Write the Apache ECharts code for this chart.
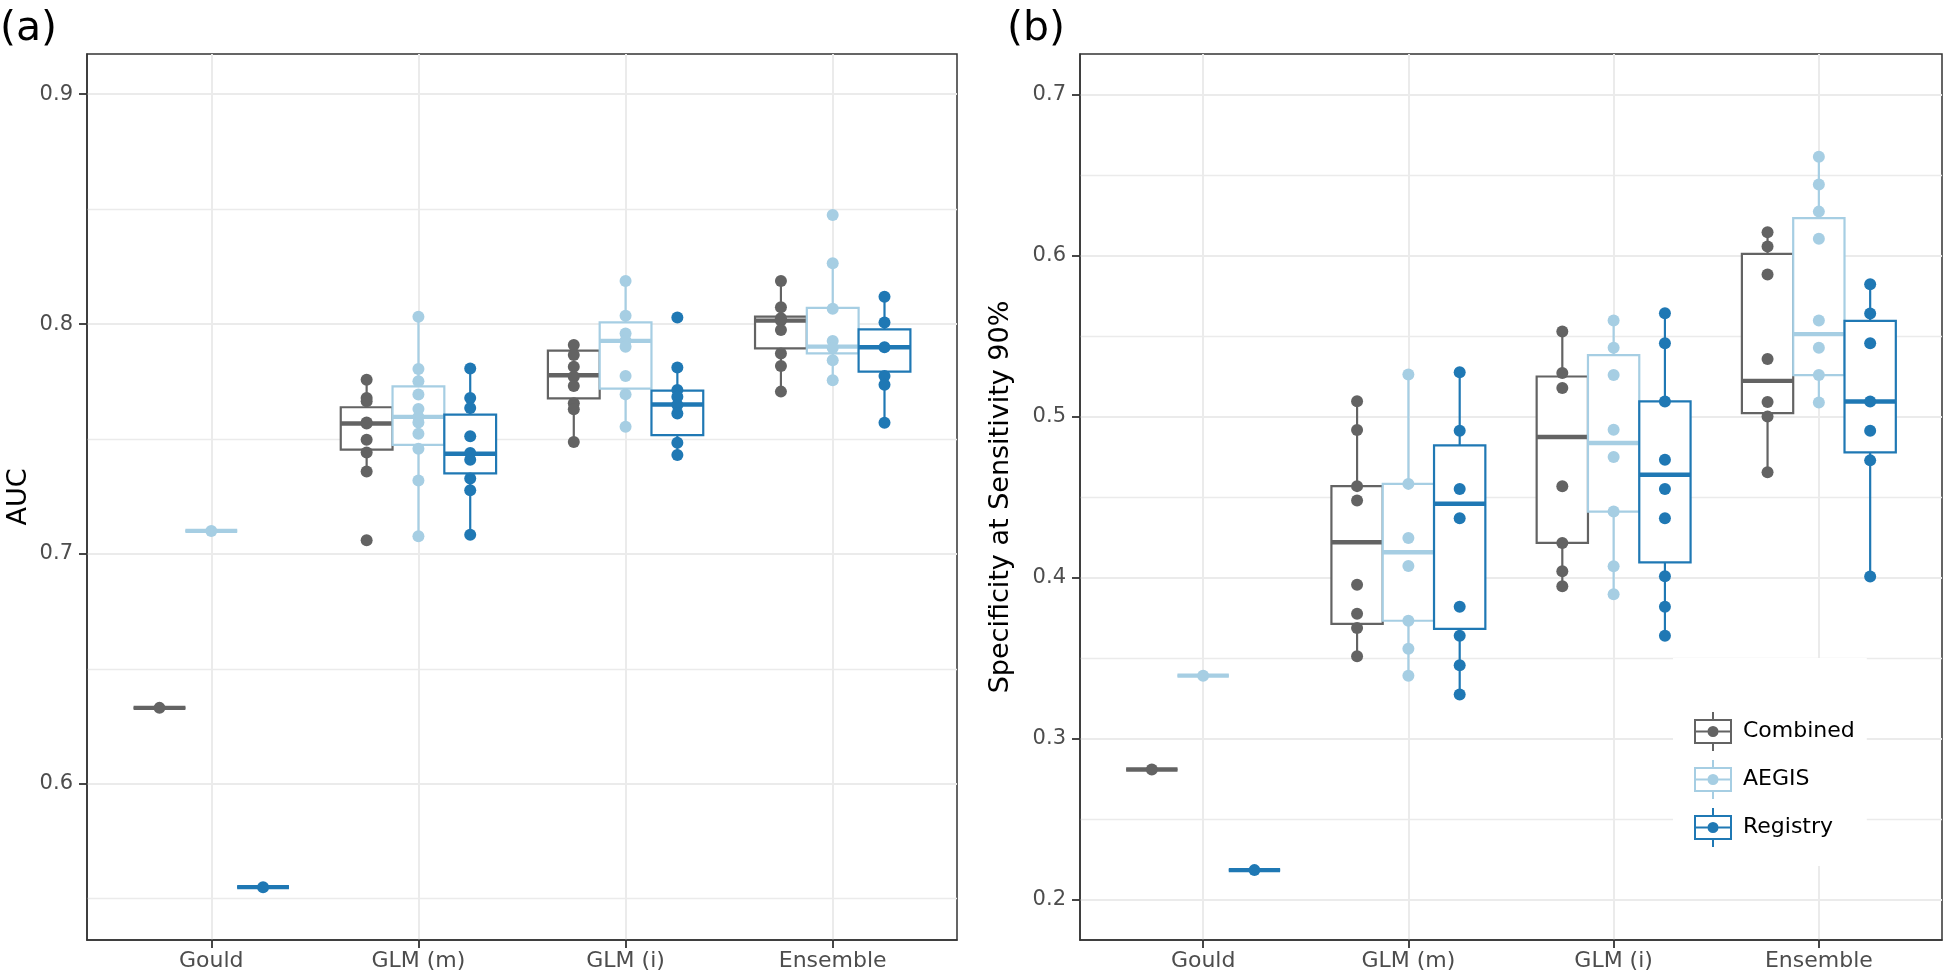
<!DOCTYPE html>
<html><head><meta charset="utf-8">
<script src="https://cdn.jsdelivr.net/npm/echarts@6/dist/echarts.min.js"></script>
<style>html,body{margin:0;padding:0;background:#fff}#c{width:1946px;height:979px}</style>
</head><body><div id="c"></div>
<script>
// ---------- data ----------
const categories = ['Gould', 'GLM (m)', 'GLM (i)', 'Ensemble'];
const groups = ['Combined', 'AEGIS', 'Registry'];
const colors = ['#636363', '#a6cee3', '#1f78b4'];

// AUC panel: box stats [lower whisker, Q1, median, Q3, upper whisker] per category
const aucCombinedBox = [[0.633,0.633,0.633,0.633,0.633],[0.7358,0.7454,0.7567,0.7638,0.7758],[0.7487,0.7677,0.7777,0.7884,0.7909],[0.7706,0.7894,0.8015,0.8032,0.8187]];
const aucAegisBox    = [[0.710,0.710,0.710,0.710,0.710],[0.7077,0.7474,0.7596,0.7729,0.8032],[0.7553,0.7719,0.7927,0.8007,0.8187],[0.7755,0.7872,0.7902,0.8070,0.8265]];
const aucRegistryBox = [[0.555,0.555,0.555,0.555,0.555],[0.7083,0.7350,0.7436,0.7606,0.7807],[0.7430,0.7517,0.7650,0.7710,0.7811],[0.7571,0.7793,0.7899,0.7977,0.8119]];
// AUC panel: individual points per category
const aucCombinedPts = [[0.633],[0.7758,0.7678,0.7664,0.7572,0.7567,0.7497,0.7441,0.7358,0.7059],[0.7909,0.7865,0.7814,0.7771,0.7730,0.7655,0.7629,0.7487],[0.8187,0.8073,0.8025,0.8015,0.7974,0.7872,0.7817,0.7706]];
const aucAegisPts    = [[0.710],[0.8032,0.7804,0.7751,0.7693,0.7630,0.7596,0.7572,0.7523,0.7457,0.7319,0.7077],[0.8187,0.8036,0.7959,0.7927,0.7901,0.7774,0.7694,0.7553],[0.8474,0.8265,0.8067,0.7926,0.7896,0.7842,0.7755]];
const aucRegistryPts = [[0.555],[0.7807,0.7678,0.7635,0.7512,0.7439,0.7410,0.7328,0.7277,0.7083],[0.8028,0.7811,0.7713,0.7684,0.7648,0.7611,0.7484,0.7430],[0.8119,0.8007,0.7899,0.7774,0.7736,0.7571]];

// Specificity panel
const specCombinedBox = [[0.2806,0.2806,0.2806,0.2806,0.2806],[0.3512,0.3710,0.4217,0.4566,0.5093],[0.3944,0.4213,0.4871,0.5247,0.5526],[0.4652,0.5020,0.5220,0.6008,0.6143]];
const specAegisBox    = [[0.3389,0.3389,0.3389,0.3389,0.3389],[0.3389,0.3730,0.4155,0.4580,0.5260],[0.3895,0.4408,0.4834,0.5380,0.5595],[0.5086,0.5256,0.5510,0.6230,0.6612]];
const specRegistryBox = [[0.2181,0.2181,0.2181,0.2181,0.2181],[0.3272,0.3679,0.4457,0.4819,0.5274],[0.3636,0.4093,0.4637,0.5092,0.5640],[0.4004,0.4776,0.5092,0.5593,0.5820]];
const specCombinedPts = [[0.2806],[0.5093,0.4915,0.4566,0.4477,0.3953,0.3774,0.3685,0.3509],[0.5526,0.5268,0.5175,0.4565,0.4213,0.4038,0.3944],[0.6143,0.6054,0.5880,0.5355,0.5088,0.4999,0.4652]];
const specAegisPts    = [[0.3389],[0.5260,0.4580,0.4244,0.4070,0.3730,0.3556,0.3389],[0.5595,0.5425,0.5256,0.4916,0.4747,0.4408,0.4069,0.3895],[0.6612,0.6440,0.6271,0.6103,0.5595,0.5425,0.5256,0.5086]];
const specRegistryPts = [[0.2181],[0.5274,0.4910,0.4548,0.4366,0.3817,0.3636,0.3453,0.3272],[0.5640,0.5454,0.5092,0.4730,0.4548,0.4366,0.4007,0.3817,0.3636],[0.5820,0.5638,0.5454,0.5092,0.4910,0.4726,0.4004]];

// axis ticks / ranges
const aucTicks = [0.6, 0.7, 0.8, 0.9];
const aucMinorTicks = [0.55, 0.65, 0.75, 0.85];
const aucRange = [0.532, 0.9175];
const specTicks = [0.2, 0.3, 0.4, 0.5, 0.6, 0.7];
const specMinorTicks = [0.25, 0.35, 0.45, 0.55, 0.65];
const specRange = [0.1747, 0.725];
const panelLabels = ['(a)', '(b)'];
const yTitles = ['AUC', 'Specificity at Sensitivity 90%'];

// ---------- styling ----------
const FONT = 'DejaVu Sans';
const DODGE = [-0.25, 0, 0.25];
const BOXW = 0.25;
const LW = 2.2;
const GRID_COL = '#ebebeb';
const INK = '#333333';

const panels = [
  { boxes: [aucCombinedBox, aucAegisBox, aucRegistryBox], pts: [aucCombinedPts, aucAegisPts, aucRegistryPts],
    ticks: aucTicks, minor: aucMinorTicks, range: aucRange, title: yTitles[0], nameGap: 55,
    grid: { left: 87, top: 54, width: 870, height: 886 } },
  { boxes: [specCombinedBox, specAegisBox, specRegistryBox], pts: [specCombinedPts, specAegisPts, specRegistryPts],
    ticks: specTicks, minor: specMinorTicks, range: specRange, title: yTitles[1], nameGap: 66,
    grid: { left: 1080, top: 54, width: 862, height: 886 } }
];

const catIdx = categories.map((c, i) => i);
const grids = [], xAxes = [], yAxes = [], series = [];

panels.forEach((p, pi) => {
  grids.push(Object.assign({ show: true, borderColor: INK, borderWidth: 1.5, backgroundColor: 'transparent' }, p.grid));
  xAxes.push({
    type: 'value', gridIndex: pi, min: -0.6, max: 3.6,
    axisLine: { show: true, onZero: false, lineStyle: { color: INK, width: 1.5 } },
    axisTick: { show: true, customValues: catIdx, length: 8, lineStyle: { color: INK, width: 1.8 } },
    axisLabel: { show: true, customValues: catIdx, formatter: v => categories[Math.round(v)], margin: 10,
                 fontSize: 22, color: '#4d4d4d', fontFamily: FONT },
    splitLine: { show: true, lineStyle: { color: GRID_COL, width: 2 } }
  });
  yAxes.push({
    type: 'value', gridIndex: pi, min: p.range[0], max: p.range[1], position: 'left',
    name: p.title, nameLocation: 'middle', nameGap: p.nameGap,
    nameTextStyle: { fontSize: 27, color: '#000', fontFamily: FONT },
    axisLine: { show: true, onZero: false, lineStyle: { color: INK, width: 1.5 } },
    axisTick: { show: true, customValues: p.ticks, length: 8, lineStyle: { color: INK, width: 1.8 } },
    axisLabel: { show: true, customValues: p.ticks, formatter: v => v.toFixed(1), margin: 14,
                 fontSize: 21, color: '#4d4d4d', fontFamily: FONT },
    splitLine: { show: true, lineStyle: { color: GRID_COL, width: 2 } }
  });
  yAxes.push({
    type: 'value', gridIndex: pi, min: p.range[0], max: p.range[1], position: 'left',
    axisLine: { show: false }, axisTick: { show: false, customValues: p.minor },
    axisLabel: { show: false, customValues: p.minor },
    splitLine: { show: true, lineStyle: { color: GRID_COL, width: 1.3 } }
  });
  const yIdx = pi * 2;
  groups.forEach((g, gi) => {
    series.push({
      type: 'custom', name: g, xAxisIndex: pi, yAxisIndex: yIdx, z: 2, silent: true,
      itemStyle: { color: colors[gi] },
      encode: { x: 0, y: [1, 2, 3, 4, 5] },
      data: p.boxes[gi].map((b, ci) => [ci].concat(b)),
      renderItem: function (params, api) {
        const ci = api.value(0), lo = api.value(1), q1 = api.value(2), md = api.value(3), q3 = api.value(4), hi = api.value(5);
        const xc = ci + DODGE[gi];
        const a = api.coord([xc - BOXW / 2, q3]);
        const b = api.coord([xc + BOXW / 2, q1]);
        const m = api.coord([xc, md]);
        const t = api.coord([xc, hi]);
        const d = api.coord([xc, lo]);
        const st = { stroke: colors[gi], lineWidth: LW, fill: null };
        return { type: 'group', children: [
          { type: 'line', shape: { x1: m[0], y1: t[1], x2: m[0], y2: a[1] }, style: st },
          { type: 'line', shape: { x1: m[0], y1: b[1], x2: m[0], y2: d[1] }, style: st },
          { type: 'rect', shape: { x: a[0], y: a[1], width: b[0] - a[0], height: b[1] - a[1] },
            style: { fill: '#fff', stroke: colors[gi], lineWidth: LW } },
          { type: 'line', shape: { x1: a[0], y1: m[1], x2: b[0], y2: m[1] },
            style: { stroke: colors[gi], lineWidth: LW * 2, fill: null } }
        ] };
      }
    });
  });
  groups.forEach((g, gi) => {
    const data = [];
    p.pts[gi].forEach((arr, ci) => arr.forEach(v => data.push([ci + DODGE[gi], v])));
    series.push({
      type: 'scatter', name: g, xAxisIndex: pi, yAxisIndex: yIdx, z: 3, silent: true,
      symbolSize: 12, itemStyle: { color: colors[gi], opacity: 1 }, data: data
    });
  });
});

const KEY = 'path://M0 7h38v2H0z M0 30h38v2H0z M0 7h2v25H0z M36 7h2v25h-2z M0 18.5h38v2H0z M18 0h2v7h-2z M18 32h2v7h-2z M24.5 19.5A5.5 5.5 0 1 1 13.5 19.5A5.5 5.5 0 1 1 24.5 19.5z';

const option = {
  animation: false,
  backgroundColor: '#fff',
  textStyle: { fontFamily: FONT },
  title: panelLabels.map((t, i) => ({
    text: t, left: i === 0 ? 0 : 1007, top: 9, padding: 0,
    textStyle: { fontSize: 41, fontWeight: 'normal', color: '#000', fontFamily: FONT }
  })),
  legend: {
    orient: 'vertical', left: 1673, top: 658, padding: [54, 12, 19, 21],
    backgroundColor: '#fff', itemWidth: 38, itemHeight: 39, itemGap: 9, selectedMode: false,
    textStyle: { fontSize: 22, color: '#000', fontFamily: FONT, padding: [0, 0, 0, 6] },
    data: groups.map((g, gi) => ({ name: g, icon: KEY, itemStyle: { color: colors[gi] } }))
  },
  grid: grids, xAxis: xAxes, yAxis: yAxes, series: series
};

const chart = echarts.init(document.getElementById('c'), null, { renderer: 'canvas' });
chart.setOption(option);
</script></body></html>
